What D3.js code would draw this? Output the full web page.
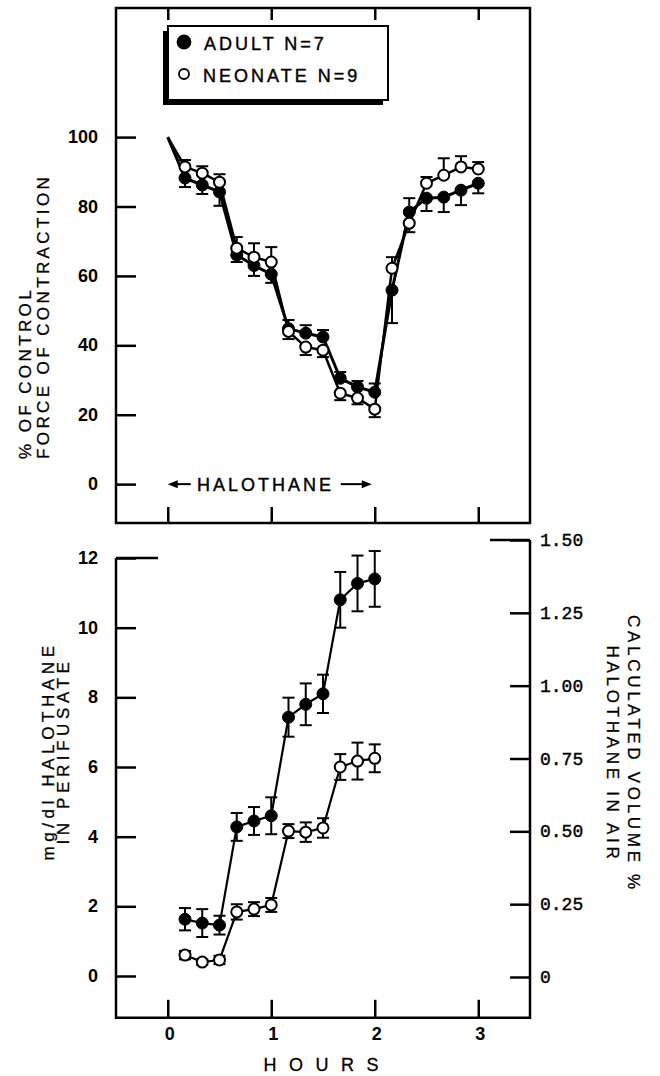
<!DOCTYPE html>
<html>
<head>
<meta charset="utf-8">
<script src="https://cdn.jsdelivr.net/npm/d3@7"></script>
<style>
    body { margin: 0; background: #fff; }
    svg { display: block; }
</style>
</head>
<body>
<div id="plot-area"><svg></svg></div>
<script>
// data declaration
// upper panel: minutes from start, % of control force (t=0 has no marker)
const topMinutes = [0, 10, 20, 30, 40, 50, 60, 70, 80, 90, 100, 110, 120, 130, 140, 150, 160, 170, 180];
const adultForce = [100, 88.2, 86.2, 84.2, 66, 63, 60.5, 44.8, 43.5, 42.4, 30.5, 28, 26.5, 55.9, 78.4, 82.4, 82.7, 84.7, 86.7];
// signed SEM: + drawn upwards, - drawn downwards
const adultForceErr = [0, -2.6, -2.6, -4, -2, -3, -2.5, 2.5, 2.3, 2, 1.8, 1.7, 2.5, -9.5, 4, -3.7, -4.3, -4.3, -2.9];
const neonateForce = [100, 91.4, 89.6, 87, 68, 65.4, 64, 44, 39.5, 38.6, 26.2, 24.8, 21.6, 62.2, 75.2, 86.7, 89, 91.4, 90.8];
const neonateForceErr = [0, 2, 2, 2.3, 3.2, 4, 4.3, -2.2, -2.3, -2, -2, -1.8, -2.3, 3.2, -2.6, 1.8, 4.9, 3.1, 2];

// lower panel: mg/dl halothane in perifusate
const botMinutes = [10, 20, 30, 40, 50, 60, 70, 80, 90, 100, 110, 120];
const adultConc = [1.63, 1.52, 1.46, 4.28, 4.45, 4.6, 7.43, 7.8, 8.1, 10.8, 11.27, 11.4];
const adultConcErr = [0.32, 0.4, 0.27, 0.4, 0.4, 0.53, 0.56, 0.6, 0.55, 0.8, 0.8, 0.8];
const neonateConc = [0.6, 0.4, 0.46, 1.84, 1.92, 2.04, 4.16, 4.13, 4.25, 6.0, 6.17, 6.25];
const neonateConcErr = [0.12, 0.08, 0.12, 0.22, 0.2, 0.2, 0.2, 0.28, 0.28, 0.37, 0.53, 0.4];

// ticks
const hourTicks = [0, 1, 2, 3];
const forceTicks = [0, 20, 40, 60, 80, 100];
const concTicks = [0, 2, 4, 6, 8, 10, 12];
const volTicks = [0, 0.25, 0.5, 0.75, 1.0, 1.25, 1.5];
const halothanePeriod = [0, 2];

const legendItems = ['ADULT N=7', 'NEONATE N=9'];

const sansFont = '"Liberation Sans", Arial, sans-serif';
const narrowFont = '"Liberation Sans Narrow", "Liberation Sans", Arial, sans-serif';
const monoFont = '"Liberation Mono", "DejaVu Sans Mono", monospace';

let svg = d3.select('#plot-area').select('svg')
    .attr('width', 660)
    .attr('height', 1076);

// scales
let x = d3.scaleLinear().domain([-0.5, 3.5]).range([116, 530]);
let yTop = d3.scaleLinear().domain([-11.2, 137.2]).range([523, 8]);
let yBot = d3.scaleLinear().domain([0, 12]).range([976, 558]);
let yRight = d3.scaleLinear().domain([0, 1.5]).range([977, 540]);
let yBotMin = -1.2;

function rows(minutes, vals, errs) {
    return minutes.map(function (m, i) {
        return {h: m / 60, v: vals[i], e: errs[i]};
    });
}

const adultTop = rows(topMinutes, adultForce, adultForceErr);
const neonateTop = rows(topMinutes, neonateForce, neonateForceErr);
const adultBot = rows(botMinutes, adultConc, adultConcErr);
const neonateBot = rows(botMinutes, neonateConc, neonateConcErr);

// ---------- upper panel frame ----------
let topPanel = svg.append('g').attr('class', 'top-panel');

topPanel.append('rect')
    .attr('x', x(-0.5))
    .attr('y', yTop(137.2))
    .attr('width', x(3.5) - x(-0.5))
    .attr('height', yTop(-11.2) - yTop(137.2))
    .style('fill', 'none')
    .style('stroke', '#000')
    .style('stroke-width', 2.5);

// x ticks top edge (down) and bottom edge (up)
topPanel.append('g')
    .attr('transform', 'translate(0,' + yTop(137.2) + ')')
    .call(d3.axisBottom(x).tickValues(hourTicks).tickSize(12).tickFormat(''))
    .call(function (g) { g.select('.domain').remove(); });

topPanel.append('g')
    .attr('transform', 'translate(0,' + yTop(-11.2) + ')')
    .call(d3.axisTop(x).tickValues(hourTicks).tickSize(16).tickFormat(''))
    .call(function (g) { g.select('.domain').remove(); });

// y axis ticks inward, labels outside
topPanel.append('g')
    .attr('class', 'yaxis')
    .attr('transform', 'translate(' + x(-0.5) + ',0)')
    .call(d3.axisRight(yTop).tickValues(forceTicks).tickSize(20).tickFormat(''))
    .call(function (g) { g.select('.domain').remove(); });

topPanel.selectAll('.force-label')
    .data(forceTicks)
    .enter().append('text')
    .attr('class', 'force-label')
    .attr('x', 98)
    .attr('y', function (d) { return yTop(d) + 6; })
    .attr('text-anchor', 'end')
    .attr('font-family', narrowFont)
    .attr('font-weight', 'bold')
    .attr('font-size', '18px')
    .text(function (d) { return d; });

// ---------- lower panel frame ----------
let botPanel = svg.append('g').attr('class', 'bottom-panel');

botPanel.append('path')
    .attr('d', 'M' + x(-0.5) + ',' + yBot(12) + 'V' + yBot(yBotMin) + 'H' + x(3.5) + 'V' + yRight(1.5))
    .style('fill', 'none')
    .style('stroke', '#000')
    .style('stroke-width', 2.5);

botPanel.append('g')
    .attr('transform', 'translate(0,' + yBot(yBotMin) + ')')
    .call(d3.axisTop(x).tickValues(hourTicks).tickSize(18).tickFormat(''))
    .call(function (g) { g.select('.domain').remove(); });

botPanel.append('g')
    .attr('transform', 'translate(' + x(-0.5) + ',0)')
    .call(d3.axisRight(yBot).tickValues(concTicks).tickSize(20).tickFormat(''))
    .call(function (g) { g.select('.domain').remove(); });

// long tick at 12
botPanel.append('line')
    .attr('x1', x(-0.5)).attr('x2', x(-0.5) + 42)
    .attr('y1', yBot(12)).attr('y2', yBot(12));

botPanel.append('g')
    .attr('transform', 'translate(' + x(3.5) + ',0)')
    .call(d3.axisLeft(yRight).tickValues(volTicks).tickSize(20).tickFormat(''))
    .call(function (g) { g.select('.domain').remove(); });

// long tick at 1.50
botPanel.append('line')
    .attr('x1', x(3.5) - 40).attr('x2', x(3.5))
    .attr('y1', yRight(1.5)).attr('y2', yRight(1.5));

botPanel.selectAll('line').style('stroke', '#000').style('stroke-width', 2.5);
topPanel.selectAll('line').style('stroke', '#000').style('stroke-width', 2.5);

botPanel.selectAll('.conc-label')
    .data(concTicks)
    .enter().append('text')
    .attr('class', 'conc-label')
    .attr('x', 98)
    .attr('y', function (d) { return yBot(d) + 6; })
    .attr('text-anchor', 'end')
    .attr('font-family', narrowFont)
    .attr('font-weight', 'bold')
    .attr('font-size', '18px')
    .text(function (d) { return d; });

botPanel.selectAll('.vol-label')
    .data(volTicks)
    .enter().append('text')
    .attr('class', 'vol-label')
    .attr('x', x(3.5) + 10)
    .attr('y', function (d) { return yRight(d) + 6; })
    .attr('text-anchor', 'start')
    .attr('font-family', monoFont)
    .attr('font-size', '18px')
    .style('stroke', '#000')
    .style('stroke-width', 0.4)
    .text(function (d) { return d === 0 ? '0' : d3.format('.2f')(d); });

botPanel.selectAll('.hour-label')
    .data(hourTicks)
    .enter().append('text')
    .attr('class', 'hour-label')
    .attr('x', function (d) { return x(d) + 2; })
    .attr('y', 1040)
    .attr('text-anchor', 'middle')
    .attr('font-family', narrowFont)
    .attr('font-weight', 'bold')
    .attr('font-size', '18px')
    .text(function (d) { return d; });

// ---------- axis titles ----------
function vText(lines, cx, cy, rot, anchor, spacing) {
    let t = svg.append('text')
        .attr('transform', 'translate(' + cx + ',' + cy + ') rotate(' + rot + ')')
        .attr('text-anchor', anchor)
        .attr('font-family', sansFont)
        .attr('font-size', '17px')
        .style('stroke', '#000')
        .style('stroke-width', 0.3)
        .style('letter-spacing', spacing + 'px');
    lines.forEach(function (l) {
        t.append('tspan')
            .attr('x', l.dx)
            .attr('y', l.dy)
            .text(l.text);
    });
}

vText([{text: '% OF CONTROL', dx: 0, dy: 0}, {text: 'FORCE OF CONTRACTION', dx: 0, dy: 18}],
    31, 459, -90, 'start', 3.4);
vText([{text: 'mg/dl HALOTHANE', dx: 2, dy: 0}, {text: 'IN PERIFUSATE', dx: 2, dy: 15}],
    54, 753, -90, 'middle', 4.6);
vText([{text: 'CALCULATED VOLUME %', dx: 2, dy: 0}, {text: 'HALOTHANE IN AIR', dx: 2, dy: 21}],
    628, 752, 90, 'middle', 3.7);

svg.append('text')
    .attr('x', x(1) + 56)
    .attr('y', 1071)
    .attr('text-anchor', 'middle')
    .attr('font-family', sansFont)
    .attr('font-size', '18px')
    .style('stroke', '#000')
    .style('stroke-width', 0.3)
    .style('letter-spacing', '12.5px')
    .text('HOURS');

// ---------- halothane annotation ----------
let ann = topPanel.append('g');
let annY = yTop(0);

ann.append('text')
    .attr('x', 197)
    .attr('y', annY + 7)
    .attr('font-family', sansFont)
    .attr('font-size', '18px')
    .style('stroke', '#000')
    .style('stroke-width', 0.4)
    .style('letter-spacing', '3px')
    .text('HALOTHANE');

function arrow(tipX, tailX) {
    let dir = tipX < tailX ? 1 : -1;
    ann.append('line')
        .attr('x1', tailX).attr('x2', tipX + dir * 6)
        .attr('y1', annY).attr('y2', annY)
        .style('stroke', '#000').style('stroke-width', 2);
    ann.append('path')
        .attr('d', 'M' + tipX + ',' + annY + 'L' + (tipX + dir * 10) + ',' + (annY - 4) +
            'L' + (tipX + dir * 10) + ',' + (annY + 4) + 'Z')
        .style('fill', '#000');
}
arrow(x(halothanePeriod[0]), x(halothanePeriod[0]) + 23);
arrow(x(halothanePeriod[1]) - 3, x(halothanePeriod[1]) - 34);

// ---------- legend ----------
let legend = svg.append('g').attr('class', 'legend');
legend.append('rect')
    .attr('x', 163).attr('y', 31).attr('width', 220).attr('height', 74)
    .style('fill', '#000');
legend.append('rect')
    .attr('x', 168).attr('y', 26).attr('width', 220).attr('height', 74)
    .style('fill', '#fff')
    .style('stroke', '#000')
    .style('stroke-width', 2);

let entries = legend.selectAll('.entry')
    .data(legendItems)
    .enter().append('g')
    .attr('class', 'entry')
    .attr('transform', function (d, i) { return 'translate(0,' + (42 + i * 32) + ')'; });

entries.append('circle')
    .attr('cx', 184)
    .attr('cy', 0)
    .attr('r', function (d, i) { return i === 0 ? 6.5 : 5; })
    .style('fill', function (d, i) { return i === 0 ? '#000' : '#fff'; })
    .style('stroke', '#000')
    .style('stroke-width', 1.8);

entries.append('text')
    .attr('x', function (d, i) { return i === 0 ? 204 : 203; })
    .attr('y', 8)
    .attr('font-family', sansFont)
    .attr('font-size', '18px')
    .style('stroke', '#000')
    .style('stroke-width', 0.4)
    .style('letter-spacing', '3px')
    .text(function (d) { return d; });

// ---------- series ----------
function drawSeries(g, data, yScale, lineWidth, twoSided) {
    const valueline = d3.line()
        .x(function (d) { return x(d.h); })
        .y(function (d) { return yScale(d.v); });

    g.append('path')
        .datum(data)
        .style('fill', 'none')
        .style('stroke', '#000')
        .style('stroke-width', lineWidth)
        .style('stroke-linejoin', 'round')
        .attr('d', valueline);

    let pts = data.filter(function (d) { return d.h > 0; });

    let bars = g.append('g');
    pts.forEach(function (d) {
        let y0 = twoSided ? yScale(d.v - d.e) : yScale(d.v);
        let y1 = yScale(d.v + d.e);
        let cx = x(d.h);
        bars.append('line')
            .attr('x1', cx).attr('x2', cx).attr('y1', y0).attr('y2', y1);
        bars.append('line')
            .attr('x1', cx - 6).attr('x2', cx + 6).attr('y1', y1).attr('y2', y1);
        if (twoSided) {
            bars.append('line')
                .attr('x1', cx - 6).attr('x2', cx + 6).attr('y1', y0).attr('y2', y0);
        }
    });
    bars.selectAll('line').style('stroke', '#000').style('stroke-width', 2);

    return pts;
}

function drawMarkers(g, pts, yScale, filled) {
    g.selectAll(null)
        .data(pts)
        .enter().append('circle')
        .attr('cx', function (d) { return x(d.h); })
        .attr('cy', function (d) { return yScale(d.v); })
        .attr('r', filled ? 6 : 5.5)
        .style('fill', filled ? '#000' : '#fff')
        .style('stroke', '#000')
        .style('stroke-width', filled ? 1 : 2);
}

let topData = svg.append('g');
let aTop = drawSeries(topData, adultTop, yTop, 3, false);
let nTop = drawSeries(topData, neonateTop, yTop, 2.5, false);
drawMarkers(topData, aTop, yTop, true);
drawMarkers(topData, nTop, yTop, false);

let botData = svg.append('g');
let aBot = drawSeries(botData, adultBot, yBot, 2.2, true);
let nBot = drawSeries(botData, neonateBot, yBot, 2.2, true);
drawMarkers(botData, aBot, yBot, true);
drawMarkers(botData, nBot, yBot, false);
</script>
</body>
</html>
